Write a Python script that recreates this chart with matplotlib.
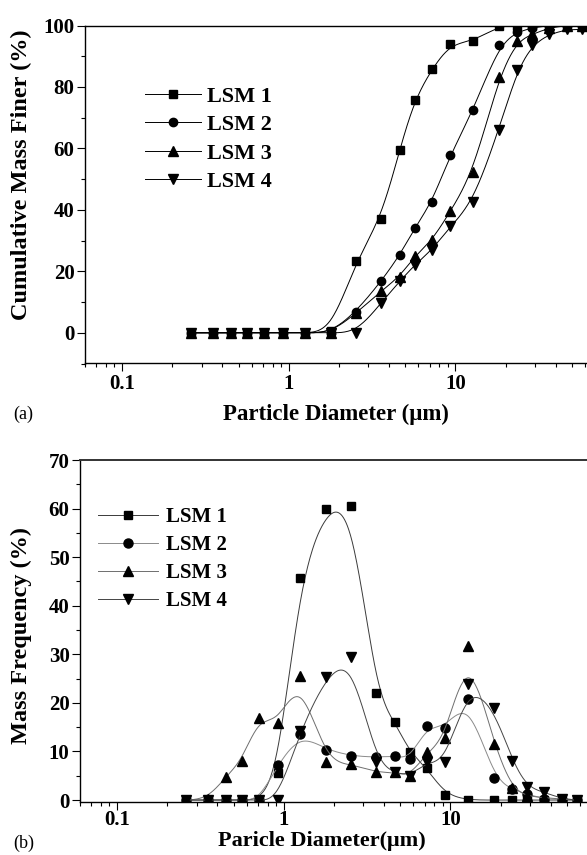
import numpy as np
import matplotlib
matplotlib.use('Agg')
import matplotlib.pyplot as plt
from matplotlib.ticker import MultipleLocator, LogLocator, NullFormatter, FixedFormatter, FixedLocator

plt.rcParams['font.family'] = 'Liberation Serif'
plt.rcParams['font.weight'] = 'bold'
plt.rcParams['axes.labelweight'] = 'bold'

# particle size bins (um)
diameter = [0.26, 0.35, 0.45, 0.56, 0.71, 0.92, 1.26, 1.79, 2.54, 3.58, 4.63,
            5.70, 7.25, 9.33, 12.8, 18.2, 23.5, 28.9, 36.3, 46.8, 57.5]
labels = ['LSM 1', 'LSM 2', 'LSM 3', 'LSM 4']

# cumulative mass finer (%)
cum_lsm1 = [0, 0, 0, 0, 0, 0, 0, 0.5, 23.5, 37.1, 59.6,
            75.9, 85.9, 94.0, 94.9, 99.8, 100, 100, 100, 100, 100]
cum_lsm2 = [0, 0, 0, 0, 0, 0, 0, 0, 6.9, 16.7, 25.2,
            34.1, 42.6, 58.0, 72.4, 93.5, 97.9, 99.2, 100, 100, 100]
cum_lsm3 = [0, 0, 0, 0, 0, 0, 0, 0, 6.4, 13.5, 18.3,
            24.9, 30.1, 39.5, 52.2, 83.3, 94.9, 97.1, 99.2, 100, 100]
cum_lsm4 = [0, 0, 0, 0, 0, 0, 0, 0, 0, 9.7, 16.7,
            22.1, 27.0, 34.6, 42.6, 66.1, 85.4, 93.5, 97.1, 98.7, 98.7]

# mass frequency (%)
freq_lsm1 = [0, 0, 0, 0, 0, 5.5, 45.8, 59.9, 60.6, 22.0, 16.1,
             9.9, 6.5, 1.1, 0, 0, 0, 0, 0, 0, 0]
freq_lsm2 = [0, 0, 0, 0, 0, 7.2, 13.6, 10.4, 9.1, 8.8, 9.1,
             8.4, 15.3, 14.8, 20.9, 4.5, 2.2, 1.2, 0.3, 0, 0]
freq_lsm3 = [0, 0.3, 4.8, 8.1, 16.9, 15.9, 25.5, 7.9, 7.4, 5.7, 5.7,
             4.9, 9.8, 12.7, 31.7, 11.5, 2.4, 0.8, 0.5, 0.2, 0]
freq_lsm4 = [0, 0, 0, 0, 0, 0, 14.3, 25.3, 29.4, 7.8, 5.7,
             4.9, 7.9, 7.8, 23.8, 18.9, 8.1, 2.7, 1.6, 0.3, 0]

markers = ['s', 'o', '^', 'v']
msizes = [5.5, 6, 6.5, 6.5]


def bspline(x, y, n=40):
    # uniform cubic B-spline in (log x, y), ends clamped
    P = np.column_stack([np.log10(x), y])
    P = np.vstack([P[0], P[0], P, P[-1], P[-1]])
    t = np.linspace(0, 1, n, endpoint=False)
    b0 = (1 - t) ** 3 / 6
    b1 = (3 * t ** 3 - 6 * t ** 2 + 4) / 6
    b2 = (-3 * t ** 3 + 3 * t ** 2 + 3 * t + 1) / 6
    b3 = t ** 3 / 6
    pts = []
    for i in range(len(P) - 3):
        seg = (b0[:, None] * P[i] + b1[:, None] * P[i + 1]
               + b2[:, None] * P[i + 2] + b3[:, None] * P[i + 3])
        pts.append(seg)
    pts.append(P[-1][None, :])
    pts = np.vstack(pts)
    return 10 ** pts[:, 0], pts[:, 1]


def style_axes(ax, ymax, ymin, ystep, yminor, xmax):
    ax.set_xscale('log')
    ax.set_xlim(0.06, xmax)
    ax.set_ylim(ymin, ymax)
    ax.xaxis.set_major_locator(FixedLocator([0.1, 1, 10]))
    ax.xaxis.set_major_formatter(FixedFormatter(['0.1', '1', '10']))
    ax.xaxis.set_minor_locator(LogLocator(base=10, subs=np.arange(2, 10)))
    ax.xaxis.set_minor_formatter(NullFormatter())
    ax.yaxis.set_major_locator(MultipleLocator(ystep))
    ax.yaxis.set_minor_locator(MultipleLocator(yminor))
    ax.tick_params(which='major', direction='out', length=5.5, width=0.8,
                   labelsize=15, pad=2, top=False, right=False)
    ax.tick_params(which='minor', direction='out', length=3, width=0.8,
                   top=False, right=False)
    ax.spines['right'].set_visible(False)
    for s in ['left', 'bottom', 'top']:
        ax.spines[s].set_linewidth(1.0)


W, H = 587, 855
fig = plt.figure(figsize=(W / 100, H / 100), dpi=100)

# (a) cumulative distribution
ax1 = fig.add_axes([85 / W, 1 - 363.5 / H, 502 / W, 338 / H])
for y, m, ms, lab in zip([cum_lsm1, cum_lsm2, cum_lsm3, cum_lsm4], markers, msizes, labels):
    xs, ys = bspline(diameter, y)
    ax1.plot(xs, ys, '-', color='black', lw=0.7)
    ax1.plot(diameter, y, m, color='black', ms=ms, ls='none')
    ax1.plot([], [], '-', color='black', lw=0.7, marker=m, ms=ms, label=lab)
style_axes(ax1, 100, -10, 20, 10, 0.06 * 10 ** (502 / 166.7))
ax1.set_ylabel('Cumulative Mass Finer (%)', fontsize=17.5)
ax1.yaxis.set_label_coords(-0.105, 0.56)
ax1.set_xlabel('Particle Diameter (\u03bcm)', fontsize=16.5)
ax1.xaxis.set_label_coords(0.5, -0.12)
ax1.legend(loc='upper left', bbox_to_anchor=(145 / W, 1 - 86 / H),
           bbox_transform=fig.transFigure, frameon=False,
           prop={'size': 16, 'weight': 'bold'},
           handlelength=2.5, handletextpad=0.3, labelspacing=0.36,
           borderpad=0, borderaxespad=0)
fig.text(13 / W, 1 - 414 / H, '(a)', fontsize=13, fontweight='normal', va='center')

# (b) frequency distribution
line_colors = ['#3a3a3a', '#8a8a8a', '#6e6e6e', '#444444']
ax2 = fig.add_axes([80 / W, 1 - 802 / H, 507 / W, 342 / H])
for y, m, ms, c, lab in zip([freq_lsm1, freq_lsm2, freq_lsm3, freq_lsm4], markers,
                            msizes, line_colors, labels):
    xs, ys = bspline(diameter, y)
    ax2.plot(xs, ys, '-', color=c, lw=0.7)
    ax2.plot(diameter, y, m, color='black', ms=ms + 0.5, ls='none')
    ax2.plot([], [], '-', color=c, lw=0.7, marker=m, mfc='black', mec='black',
             ms=ms + 0.5, label=lab)
style_axes(ax2, 70, -0.4, 10, 5, 0.06 * 10 ** (507 / 166.7))
ax2.tick_params(axis='x', which='major', pad=0)
ax2.spines['top'].set_color('#333333')
ax2.spines['top'].set_linewidth(1.4)
ax2.set_ylabel('Mass Frequency (%)', fontsize=17.5)
ax2.yaxis.set_label_coords(-0.095, 0.488)
ax2.set_xlabel('Paricle Diameter(\u03bcm)', fontsize=16)
ax2.xaxis.set_label_coords(0.477, -0.084)
ax2.legend(loc='upper left', bbox_to_anchor=(98 / W, 1 - 507 / H),
           bbox_transform=fig.transFigure, frameon=False,
           prop={'size': 15, 'weight': 'bold'},
           handlelength=2.9, handletextpad=0.35, labelspacing=0.39,
           borderpad=0, borderaxespad=0)
fig.text(13 / W, 1 - 843 / H, '(b)', fontsize=13, fontweight='normal', va='center')

fig.savefig('out.png', dpi=100)
